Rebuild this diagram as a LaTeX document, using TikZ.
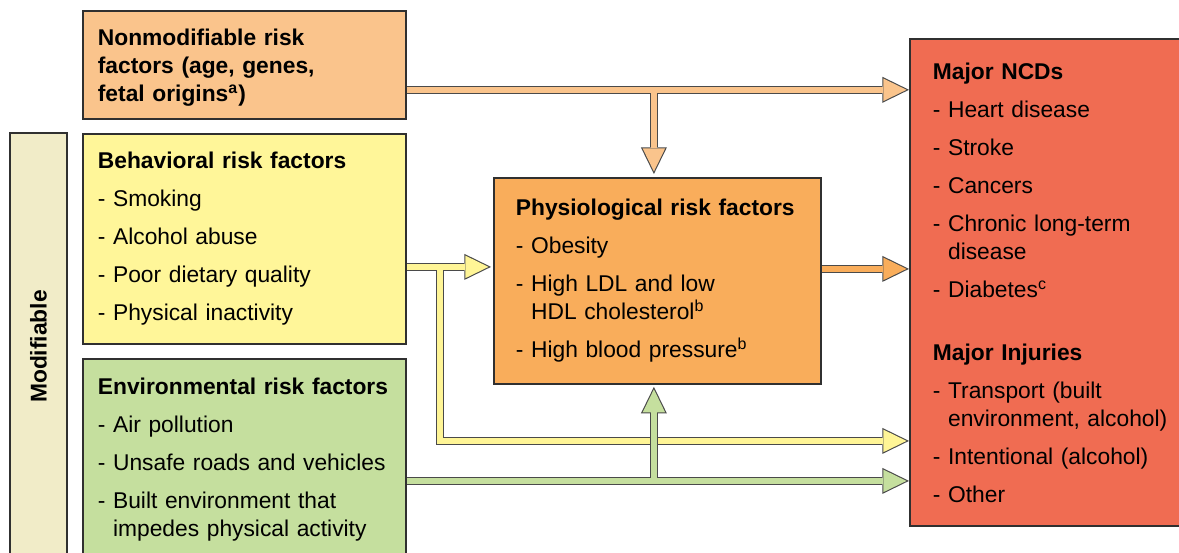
\documentclass[tikz,border=0pt]{standalone}
\usepackage{fontspec}
\setmainfont{Liberation Sans}
\usepackage{tikz}
\usetikzlibrary{arrows.meta,calc,positioning}
\definecolor{nonmodfill}{RGB}{250,196,140}
\definecolor{modfill}{RGB}{241,236,200}
\definecolor{behavfill}{RGB}{255,246,153}
\definecolor{envfill}{RGB}{197,223,158}
\definecolor{physfill}{RGB}{249,173,91}
\definecolor{majorfill}{RGB}{240,108,82}
\definecolor{boxline}{RGB}{48,48,48}
\definecolor{pipeline}{RGB}{74,74,74}
\definecolor{yellowpipe}{RGB}{255,245,150}
\tikzset{% boxes and fat arrows
	box/.style={draw=boxline,line width=0.9pt,rectangle,align=left,inner ysep=0pt,
		font=\fontsize{11.4pt}{14pt}\selectfont},
	pipe/.style={draw=pipeline,line width=4pt,
		-{Triangle[length=13.3pt,width=13pt,line width=0pt]}},
	pipefill/.style={draw=#1,line width=2.9pt,shorten >=1.26pt,
		-{Triangle[length=11.5pt,width=11.2pt,line width=0pt]}}
}
\newcommand{\cont}{\hphantom{- }}
\begin{document}
\begin{tikzpicture}[x=0.5pt,y=-0.5pt]
\useasboundingbox (0,0) rectangle (1179,552);
% boxes
\node[box,fill=nonmodfill,anchor=north west,minimum width=161.5pt,minimum height=54pt,
	inner xsep=7.5pt,text width=146.5pt] (nonmod) at (82,10)
	{\rule{0pt}{11.3pt}\textbf{Nonmodifiable risk\\factors (age, genes,\\fetal origins\textsuperscript{a})}};
\node[box,fill=modfill,rotate=90,minimum width=213.5pt,minimum height=28.5pt,
	font=\fontsize{11.4pt}{14pt}\selectfont\bfseries] (modif) at (38.5,346.5) {Modifiable};
\node[box,fill=behavfill,anchor=north west,minimum width=161.5pt,minimum height=105pt,
	inner xsep=7.5pt,text width=146.5pt] (behav) at (82,133)
	{\textbf{Behavioral risk factors}\\[5pt]
	- Smoking\\[5pt]
	- Alcohol abuse\\[5pt]
	- Poor dietary quality\\[5pt]
	- Physical inactivity};
\node[box,fill=envfill,anchor=north west,minimum width=161.5pt,minimum height=101pt,
	inner xsep=7.5pt,text width=146.5pt] (env) at (82,358)
	{\textbf{Environmental risk factors}\\[5pt]
	- Air pollution\\[5pt]
	- Unsafe roads and vehicles\\[5pt]
	- Built environment that\\\cont impedes physical activity};
\node[box,fill=physfill,anchor=north west,minimum width=163.5pt,minimum height=103pt,
	inner xsep=11pt,text width=141.5pt] (phys) at (493,177)
	{\textbf{Physiological risk factors}\\[5pt]
	- Obesity\\[5pt]
	- High LDL and low\\\cont HDL cholesterol\textsuperscript{b}\\[5pt]
	- High blood pressure\textsuperscript{b}};
\node[box,fill=majorfill,anchor=north west,minimum width=148pt,minimum height=243.5pt,
	inner xsep=11.5pt,text width=125pt] (major) at (909,38)
	{\textbf{Major NCDs}\\[5pt]
	- Heart disease\\[5pt]
	- Stroke\\[5pt]
	- Cancers\\[5pt]
	- Chronic long-term\\\cont disease\\[5pt]
	- Diabetes\textsuperscript{c}\\[17.5pt]
	\textbf{Major Injuries}\\[5pt]
	- Transport (built\\\cont environment, alcohol)\\[5pt]
	- Intentional (alcohol)\\[5pt]
	- Other};
% arrow ends
\coordinate (nm) at ([yshift=15pt]nonmod.south east);
\coordinate (ph) at ([xshift=-1.75pt]phys.north);
\coordinate (bh) at ([yshift=-14pt]behav.east);
\coordinate (yb) at ([xshift=16.5pt]bh);
\coordinate (yl) at ([yshift=-87pt]yb);
\coordinate (ev) at ([yshift=-10.5pt]env.east);
\coordinate (pr) at ([yshift=6pt]phys.east);
% nonmodifiable
\draw[pipe] (nm) -- (nm -| major.west);
\draw[pipe] (nm -| ph) -- ([yshift=1.5pt]ph);
\draw[pipefill=nonmodfill] (nm) -- (nm -| major.west);
\draw[pipefill=nonmodfill] (nm -| ph) -- ([yshift=1.5pt]ph);
% behavioral
\draw[pipe] (bh) -- ([xshift=-1pt]bh -| phys.west);
\draw[pipe] (yb) -- (yl) -- (yl -| major.west);
\draw[pipefill=yellowpipe] (bh) -- ([xshift=-1pt]bh -| phys.west);
\draw[pipefill=yellowpipe] (yb) -- (yl) -- (yl -| major.west);
% environmental
\draw[pipe] (ev) -- (ev -| major.west);
\draw[pipe] (ev -| ph) -- ([yshift=-1pt]ph |- phys.south);
\draw[pipefill=envfill] (ev) -- (ev -| major.west);
\draw[pipefill=envfill] (ev -| ph) -- ([yshift=-1pt]ph |- phys.south);
% physiological
\draw[pipe] (pr) -- (pr -| major.west);
\draw[pipefill=physfill] (pr) -- (pr -| major.west);
\end{tikzpicture}
\end{document}
